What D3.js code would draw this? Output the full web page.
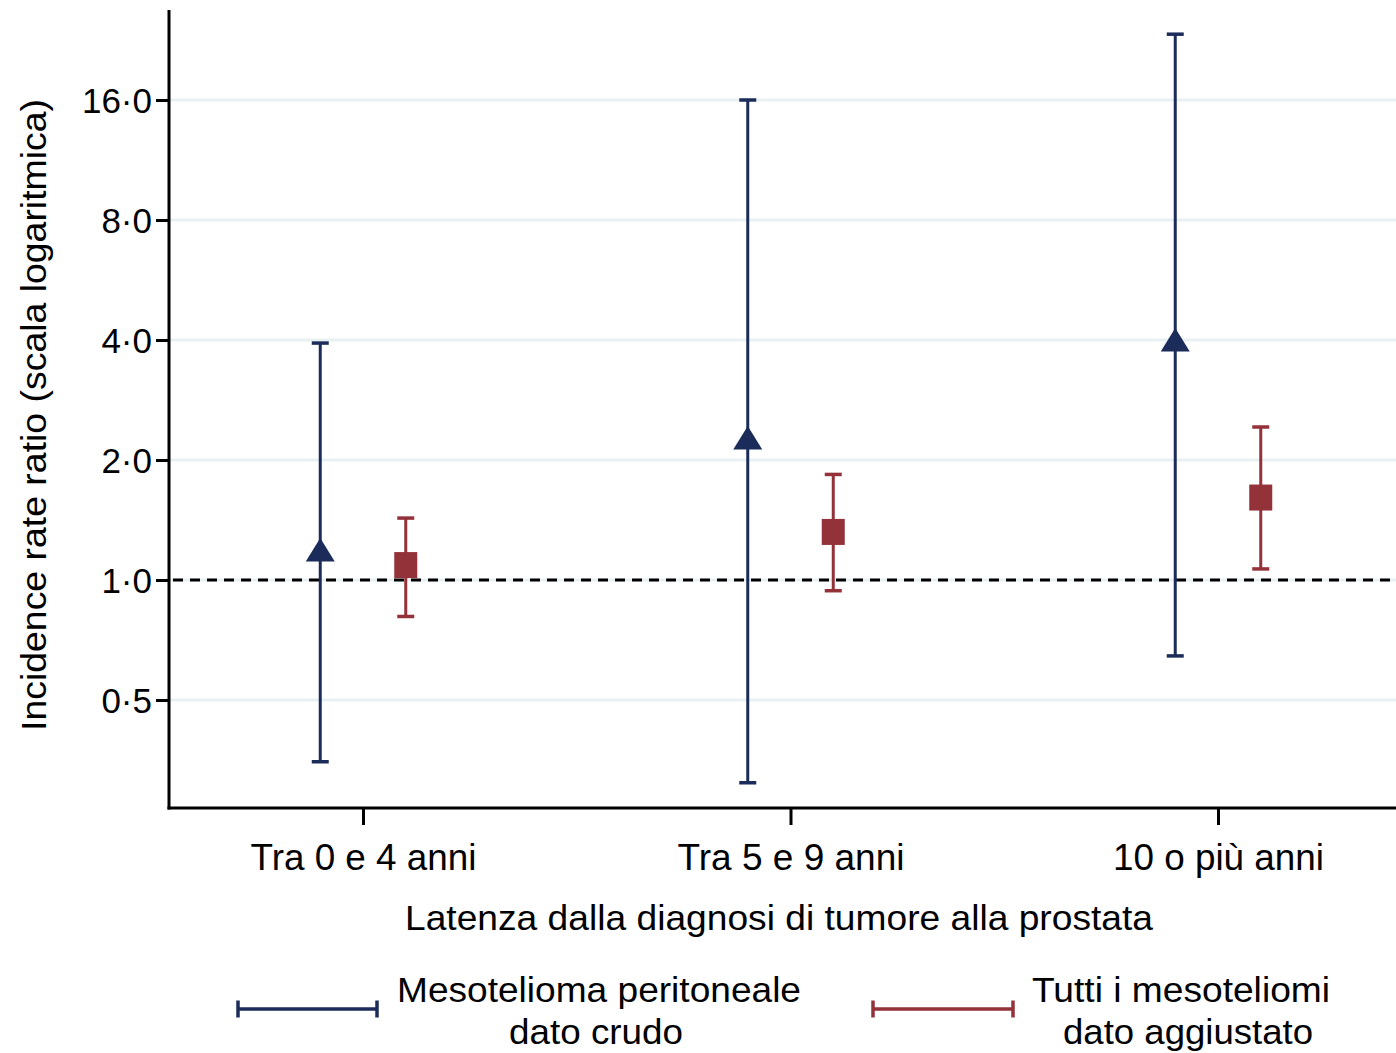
<!DOCTYPE html>
<html>
<head>
<meta charset="utf-8">
<script src="https://cdn.jsdelivr.net/npm/d3@7"></script>
<style>
  body { margin: 0; background: #fff; }
  svg { display: block; font-family: "Liberation Sans", Arial, sans-serif; }
</style>
</head>
<body>
<svg id="chart" width="1396" height="1053"></svg>
<script>
// ---- Data ----
const categories = ["Tra 0 e 4 anni", "Tra 5 e 9 anni", "10 o più anni"];
const seriesNames = ["Mesotelioma peritoneale|dato crudo", "Tutti i mesoteliomi|dato aggiustato"];
// crude peritoneal mesothelioma
const crudeEst   = [1.19, 2.27, 4.0];
const crudeLow   = [0.35, 0.31, 0.645];
const crudeHigh  = [3.93, 16.0, 23.4];
// adjusted all mesotheliomas
const adjEst     = [1.09, 1.32, 1.61];
const adjLow     = [0.81, 0.94, 1.066];
const adjHigh    = [1.43, 1.84, 2.42];
const yTicks     = [0.5, 1, 2, 4, 8, 16];
const yTickLabels = ["0·5", "1·0", "2·0", "4·0", "8·0", "16·0"];

// ---- Layout ----
const W = 1396, H = 1053;
const plotLeft = 169, plotRight = 1396, plotTop = 10, plotBottom = 808;
const blue = "#1b2c5a", red = "#933239";
const fontSize = 35;
const xLabelWidths = [226, 227, 211];

const svg = d3.select("#chart");

const y = d3.scaleLog().base(2).domain([0.5, 16]).range([700, 100]);
const x = d3.scaleLinear().domain([0, 2]).range([363, 1218]);
const offset = 0.1;

// gridlines
svg.append("g").selectAll("line").data(yTicks).join("line")
  .attr("x1", plotLeft).attr("x2", plotRight)
  .attr("y1", d => y(d)).attr("y2", d => y(d))
  .attr("stroke", "#e8f0f2").attr("stroke-width", 3);

// reference line at 1
svg.append("line")
  .attr("x1", plotLeft).attr("x2", plotRight)
  .attr("y1", y(1)).attr("y2", y(1))
  .attr("stroke", "#000").attr("stroke-width", 3)
  .attr("stroke-dasharray", "10,7").attr("stroke-dashoffset", -4);

// Y axis
const yAxis = d3.axisLeft(y).tickValues(yTicks)
  .tickFormat((d, i) => yTickLabels[i]).tickSize(13).tickPadding(4);
const gy = svg.append("g").attr("transform", `translate(${plotLeft},0)`).call(yAxis);
gy.select(".domain").remove();
gy.selectAll(".tick line").attr("stroke", "#000").attr("stroke-width", 3);
gy.selectAll(".tick text").attr("font-size", fontSize).attr("fill", "#000")
  .attr("font-family", "Liberation Sans, Arial, sans-serif").attr("dy", "0.36em");
svg.append("line").attr("x1", plotLeft).attr("x2", plotLeft)
  .attr("y1", plotTop).attr("y2", plotBottom + 1.5)
  .attr("stroke", "#000").attr("stroke-width", 3);

// X axis
const xAxis = d3.axisBottom(x).tickValues([0, 1, 2])
  .tickFormat(i => categories[i]).tickSize(17).tickPadding(19);
const gx = svg.append("g").attr("transform", `translate(0,${plotBottom})`).call(xAxis);
gx.select(".domain").remove();
gx.selectAll(".tick line").attr("stroke", "#000").attr("stroke-width", 3);
gx.selectAll(".tick text").attr("font-size", 36).attr("fill", "#000")
  .attr("font-family", "Liberation Sans, Arial, sans-serif")
  .attr("textLength", (d, i) => xLabelWidths[i]).attr("lengthAdjust", "spacingAndGlyphs");
svg.append("line").attr("x1", plotLeft - 1.5).attr("x2", plotRight)
  .attr("y1", plotBottom).attr("y2", plotBottom)
  .attr("stroke", "#000").attr("stroke-width", 3);

// Axis titles
svg.append("text")
  .attr("transform", `translate(46,415) rotate(-90)`)
  .attr("text-anchor", "middle").attr("font-size", fontSize)
  .attr("textLength", 632).attr("lengthAdjust", "spacingAndGlyphs")
  .text("Incidence rate ratio (scala logaritmica)");
svg.append("text")
  .attr("x", 779).attr("y", 930)
  .attr("text-anchor", "middle").attr("font-size", fontSize)
  .attr("textLength", 748).attr("lengthAdjust", "spacingAndGlyphs")
  .text("Latenza dalla diagnosi di tumore alla prostata");

// Series drawing
const capHalf = 8.5;
function drawSeries(est, low, high, color, dx, marker) {
  const g = svg.append("g");
  const idx = d3.range(categories.length);
  g.selectAll("line.bar").data(idx).join("line")
    .attr("x1", i => x(i + dx)).attr("x2", i => x(i + dx))
    .attr("y1", i => y(low[i])).attr("y2", i => y(high[i]))
    .attr("stroke", color).attr("stroke-width", 3);
  [low, high].forEach(arr => {
    g.selectAll(null).data(idx).join("line")
      .attr("x1", i => x(i + dx) - capHalf).attr("x2", i => x(i + dx) + capHalf)
      .attr("y1", i => y(arr[i])).attr("y2", i => y(arr[i]))
      .attr("stroke", color).attr("stroke-width", 3.5);
  });
  if (marker === "triangle") {
    g.selectAll("path").data(idx).join("path")
      .attr("d", "M0,-12 L14.5,11.5 L-14.5,11.5 Z")
      .attr("transform", i => `translate(${x(i + dx)},${y(est[i])})`)
      .attr("fill", color);
  } else {
    g.selectAll("rect").data(idx).join("rect")
      .attr("x", i => x(i + dx) - 11.5).attr("y", i => y(est[i]) - 13)
      .attr("width", 23).attr("height", 26)
      .attr("fill", color);
  }
}
drawSeries(crudeEst, crudeLow, crudeHigh, blue, -offset, "triangle");
drawSeries(adjEst, adjLow, adjHigh, red, offset, "square");

// Legend
const legendItems = [
  { name: seriesNames[0], color: blue, x1: 238, x2: 377, ly: 1009, tx: [599, 596], w: [404, 174] },
  { name: seriesNames[1], color: red, x1: 873, x2: 1013, ly: 1009, tx: [1181, 1188], w: [298, 250] }
];
legendItems.forEach(it => {
  const g = svg.append("g");
  g.append("line").attr("x1", it.x1).attr("x2", it.x2).attr("y1", it.ly).attr("y2", it.ly)
    .attr("stroke", it.color).attr("stroke-width", 3.5);
  [it.x1, it.x2].forEach(cx => g.append("line")
    .attr("x1", cx).attr("x2", cx).attr("y1", it.ly - 8.5).attr("y2", it.ly + 8.5)
    .attr("stroke", it.color).attr("stroke-width", 3.5));
  const lines = it.name.split("|");
  lines.forEach((t, k) => {
    g.append("text").attr("x", it.tx[k]).attr("y", 1002 + k * 42)
      .attr("text-anchor", "middle").attr("font-size", fontSize)
      .attr("textLength", it.w[k]).attr("lengthAdjust", "spacingAndGlyphs")
      .text(t);
  });
});
</script>
</body>
</html>
